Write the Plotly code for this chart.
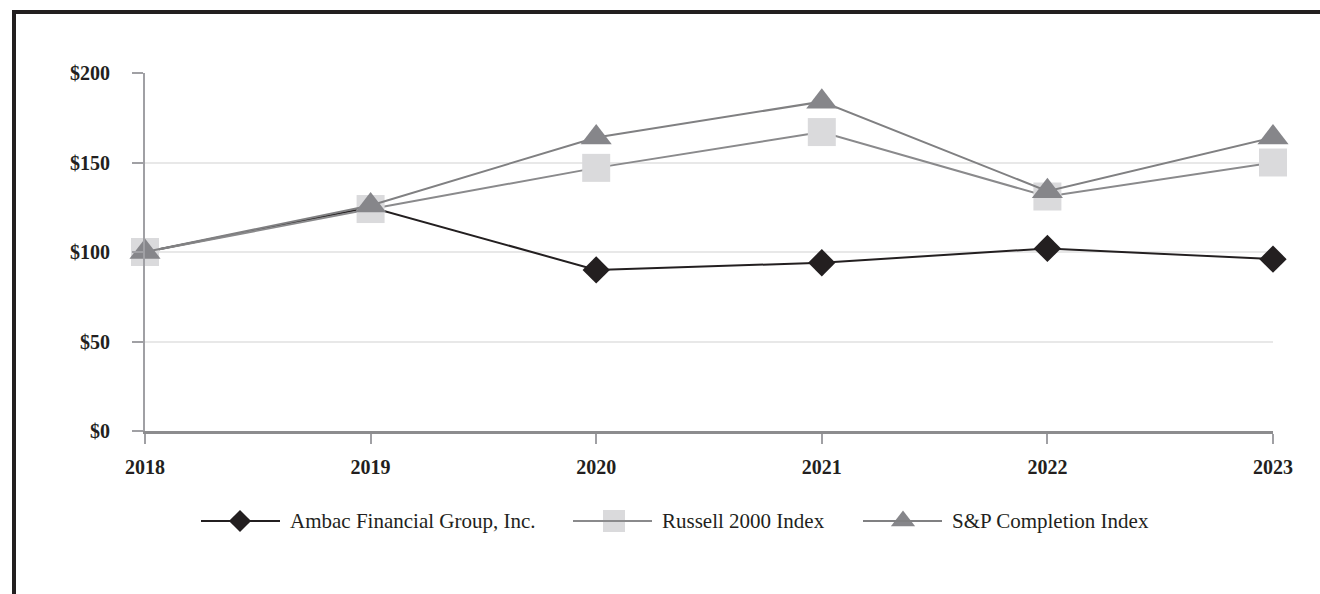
import plotly.graph_objects as go

years = [2018, 2019, 2020, 2021, 2022, 2023]
ambac = [100, 125, 90, 94, 102, 96]
russell = [100, 124, 147, 167, 131, 150]
sp_completion = [100, 126, 164, 184, 134, 164]
series_names = ["Ambac Financial Group, Inc.", "Russell 2000 Index", "S&P Completion Index"]
y_ticks = [0, 50, 100, 150, 200]
y_tick_labels = ["$0", "$50", "$100", "$150", "$200"]

W, H = 1320, 594
L, R, T, B = 145, 47, 73, 49
PLOT_BOTTOM = 431          # pixel row of $0
LEG_TOP = 460              # top of legend strip
pw, ph = W - L - R, H - T - B
paper_bottom = H - B

def px_x(p):
    return (p - L) / pw

def px_y(q):
    return (paper_bottom - q) / ph

styles = [
    dict(line="#231f20", marker="#231f20", symbol="diamond", size=21, lsize=17),
    dict(line="#8a8a8c", marker="#dadadc", symbol="square", size=28, lsize=22),
    dict(line="#808082", marker="#86868a", symbol="triangle-up", size=27, lsize=21),
]
values = [ambac, russell, sp_completion]

fig = go.Figure()
for name, vals, st in zip(series_names, values, styles):
    fig.add_trace(go.Scatter(
        x=years, y=vals, name=name, mode="lines+markers",
        line=dict(color=st["line"], width=2),
        marker=dict(symbol=st["symbol"], size=st["size"], color=st["marker"]),
        cliponaxis=False, showlegend=False,
    ))

# manual legend (pixel layout) in its own strip subplot
leg_y = 521
leg_items = [  # line start, line end, marker center, text start
    (201, 280, 240, 288),
    (573, 652, 614, 660),
    (863, 942, 903, 950),
]
for name, st, (x0, x1, xm, xt) in zip(series_names, styles, leg_items):
    fig.add_shape(type="line", xref="paper", yref="paper",
                  x0=px_x(x0), x1=px_x(x1), y0=px_y(leg_y), y1=px_y(leg_y),
                  line=dict(color=st["line"], width=2))
    fig.add_trace(go.Scatter(
        x=[xm], y=[leg_y], xaxis="x2", yaxis="y2", mode="markers",
        marker=dict(symbol=st["symbol"], size=st["lsize"], color=st["marker"]),
        cliponaxis=False, showlegend=False, hoverinfo="skip",
    ))
    fig.add_annotation(x=px_x(xt), y=px_y(leg_y), xref="paper", yref="paper",
                       text=name, showarrow=False, xanchor="left", yanchor="middle",
                       font=dict(family="Liberation Serif", size=21, color="#231f20"))

# outer frame
fig.add_shape(type="rect", xref="paper", yref="paper",
              x0=px_x(14), x1=px_x(1330), y0=px_y(12), y1=px_y(610),
              line=dict(color="#231f20", width=4), layer="below")

tickfont = dict(family="Liberation Serif", size=20, color="#231f20", weight="bold")
fig.update_layout(
    width=W, height=H,
    margin=dict(l=L, r=R, t=T, b=B),
    paper_bgcolor="white", plot_bgcolor="white",
    font=dict(family="Liberation Serif", color="#231f20"),
    showlegend=False,
    xaxis=dict(range=[2018, 2023], tickvals=years, ticktext=[str(y) for y in years],
               anchor="y",
               showgrid=False, showline=True, linecolor="#8c8c8e", linewidth=3,
               ticks="outside", ticklen=10, tickwidth=2, tickcolor="#a0a0a4",
               ticklabelstandoff=6, tickfont=tickfont, zeroline=False),
    yaxis=dict(range=[0, 200], tickvals=y_ticks, ticktext=y_tick_labels,
               domain=[px_y(PLOT_BOTTOM), 1], anchor="x",
               showgrid=True, gridcolor="#e8e8e8", gridwidth=2,
               showline=True, linecolor="#a0a0a4", linewidth=2,
               ticks="outside", ticklen=11, tickwidth=2, tickcolor="#a0a0a4",
               ticklabelstandoff=18, tickfont=tickfont, zeroline=False),
    xaxis2=dict(range=[L, W - R], domain=[0, 1], anchor="y2",
                visible=False, fixedrange=True),
    yaxis2=dict(range=[paper_bottom, LEG_TOP], domain=[0, px_y(LEG_TOP)], anchor="x2",
                visible=False, fixedrange=True),
)

fig.write_html("out.html")
